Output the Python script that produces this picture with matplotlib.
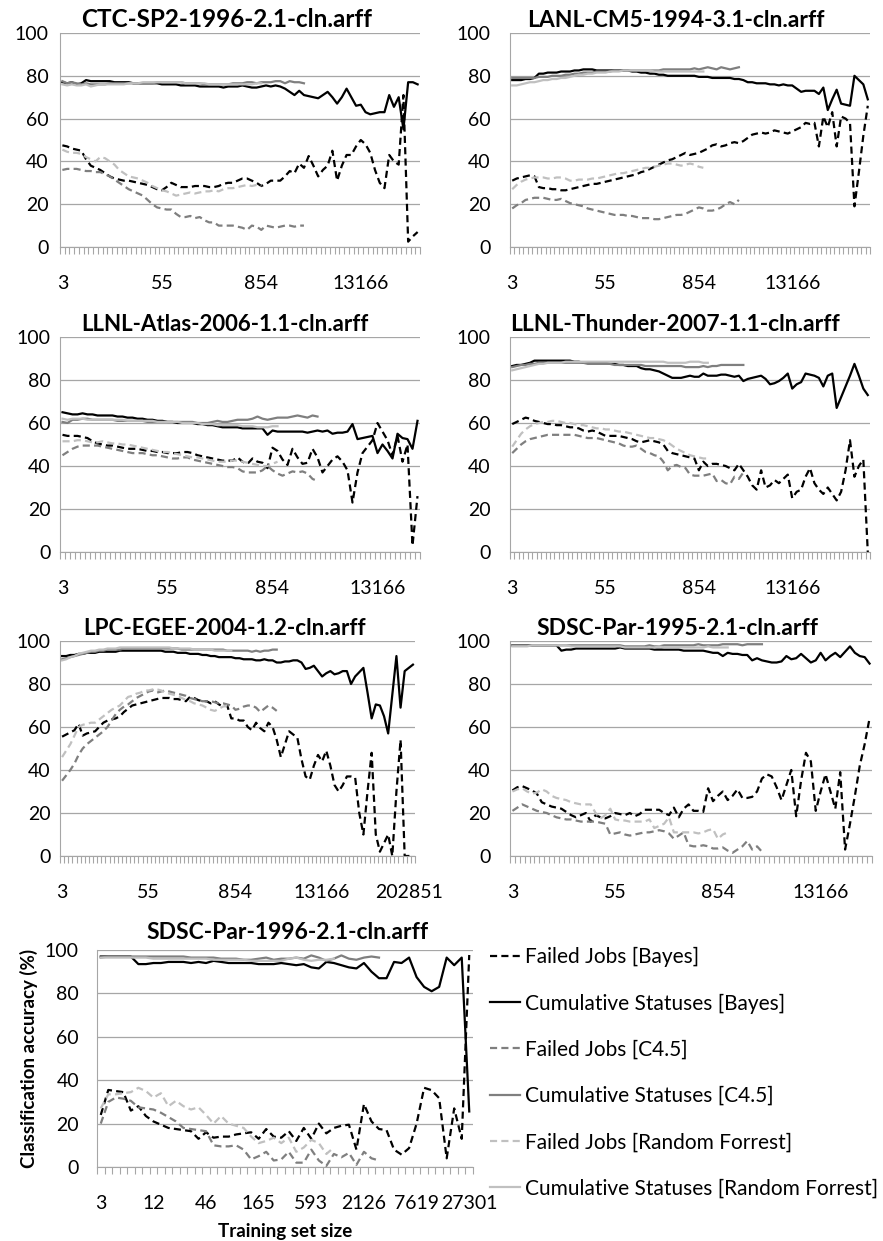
import numpy as np
import matplotlib.pyplot as plt
from matplotlib.lines import Line2D
from matplotlib.ticker import FixedLocator, NullFormatter

plt.rcParams['font.family'] = ['Lato', 'DejaVu Sans']

# ---------------- data ----------------
labels = ['Failed Jobs [Bayes]', 'Cumulative Statuses [Bayes]',
          'Failed Jobs [C4.5]', 'Cumulative Statuses [C4.5]',
          'Failed Jobs [Random Forrest]', 'Cumulative Statuses [Random Forrest]']

ticks_std = ['3', '55', '854', '13166']
ticks_lpc = ['3', '55', '854', '13166', '202851']
ticks_1996 = ['3', '12', '46', '165', '593', '2126', '7619', '27301']

# CTC-SP2-1996
ctc_bayes_failed = [47.5, 47, 46, 45.5, 45, 41, 38, 37, 36, 34.5, 33, 32, 31.5, 31, 31, 30.5, 30, 29.5, 29, 28, 27,
                    26.5, 28, 30, 29, 28, 28, 28, 28.5, 28.5, 28.5, 28, 28, 28.5, 29.5, 30, 30, 31, 32, 32, 31,
                    30, 28.5, 29.5, 31, 31, 31, 33, 35.5, 34.5, 39, 37, 42.5, 38, 33, 36, 38, 45, 31, 38, 43,
                    43, 47, 50, 48, 44, 36, 30, 27.5, 43, 40, 38.5, 71, 2.5, 5, 7]
ctc_bayes_cum = [77, 76.5, 77, 76, 76.5, 78, 77.5, 77.5, 77.5, 77.5, 77.5, 77, 77, 77, 77, 76.5, 76.5, 76.5, 76.5,
                 76.5, 76.5, 76, 76, 76, 76, 75.5, 75.5, 75.5, 75.5, 75, 75, 75, 75, 75, 74.5, 75, 75, 75, 75.5,
                 75, 74.5, 74.5, 75, 75.5, 75, 75.5, 75, 74, 72.5, 71, 73, 71, 70.5, 70, 69.5, 71, 72.5, 70, 67,
                 70, 74, 70, 66, 66.5, 63, 62, 62.5, 63, 63, 71, 65.5, 70, 55, 77, 77, 76]
ctc_c45_failed = [36, 36.5, 36.5, 36.5, 36, 35.5, 35.5, 35, 35, 34, 33, 31.5, 30, 28.5, 27, 26, 25, 24, 22, 20,
                  18.5, 18, 17.5, 17.5, 15.5, 14, 14, 14.5, 13.5, 14, 12.5, 11.5, 11.5, 10, 10, 10, 10, 9.5, 9,
                  8, 10, 9.5, 8, 10, 9.5, 9, 9.5, 10, 10, 9.5, 10, 10]
ctc_c45_cum = [77.5, 76.5, 77, 76.5, 76, 76.5, 76, 76, 76, 76, 76.5, 76.5, 76.5, 76.5, 76.5, 76.5, 76.5, 76.5,
               76.5, 76.5, 77, 77, 77, 77, 77, 77, 76.5, 76.5, 76.5, 76.5, 76, 76, 76, 76, 76, 76, 76.5, 76.5,
               76.5, 77, 77, 76.5, 77, 77, 77, 77.5, 77.5, 76.5, 77.5, 77, 77, 76.5]
ctc_rf_failed = [45.5, 44.5, 44, 44, 43.5, 42, 41, 40, 42, 41.5, 40, 38.5, 36, 34.5, 33, 32.5, 32, 31, 30, 28.5,
                 27.5, 26.5, 26, 25, 24, 24.5, 25, 25.5, 25, 25.5, 26, 26, 26.5, 26, 27, 27.5, 27.5, 28, 28.5,
                 29, 28.5, 29, 28.5]
ctc_rf_cum = [76, 75.5, 76, 75.5, 75.5, 76, 75, 75.5, 76, 76, 76, 76, 76, 76, 76.5, 76.5, 76.5, 77, 77, 77, 77,
              77, 77, 77, 77, 77, 76.5, 76.5, 76.5, 76.5, 76.5, 76, 76, 76, 76, 76, 76, 76, 76, 76, 76, 76.5, 76.5]

# LANL-CM5-1994
lanl_bayes_failed = [31, 32, 32.5, 33, 33.5, 33, 28, 27.5, 27.5, 27, 27, 26.5, 26.5, 27, 27.5, 28, 28.5, 29,
                     29.5, 29.5, 30, 30.5, 31, 31.5, 32, 32.5, 33, 33.5, 34, 35, 35.5, 36.5, 37.5, 38.5, 39.5,
                     40.5, 41, 42, 43, 44, 43, 43.5, 44, 45, 46, 47.5, 48, 47, 47.5, 48.5, 49, 48.5, 49.5, 51,
                     52.5, 53, 53.5, 53, 53.5, 54.5, 54, 53.5, 53, 54, 55, 56, 58, 57.5, 58, 47, 61, 56, 63, 47,
                     61, 60, 58, 19, 35, 52, 66]
lanl_bayes_cum = [78, 78, 78, 78.5, 78.5, 79, 81, 81, 81.5, 81.5, 81.5, 82, 82, 82, 82.5, 82.5, 83, 83, 83, 82.5,
                  82.5, 82.5, 82.5, 82.5, 82.5, 82.5, 82.5, 82, 82, 81.5, 81.5, 81, 81, 80.5, 80.5, 80, 80, 80,
                  80, 80, 80, 80, 79.5, 79.5, 79.5, 79, 79, 79, 79, 79, 78.5, 78.5, 78, 77, 77, 76.5, 76.5, 76.5,
                  76, 76, 75.5, 76, 75.5, 75.5, 74, 72.5, 73, 73, 73, 71.5, 74.5, 64, 69, 73.5, 67, 66.5, 66, 80,
                  78, 76, 69]
lanl_c45_failed = [18, 19.5, 20.5, 22, 22.5, 23, 23, 23, 22.5, 22, 22, 22.5, 21.5, 20.5, 20, 19.5, 19, 18, 17.5,
                   17, 16.5, 16, 15.5, 15, 15, 15, 14.5, 14.5, 14, 13.5, 13.5, 13.5, 13, 13, 13.5, 14, 14.5, 15,
                   15, 15.5, 16.5, 17.5, 18.5, 18, 17, 17, 17.5, 18.5, 20, 21, 20, 22]
lanl_c45_cum = [79, 79, 79, 79, 79, 79, 79.5, 79.5, 79.5, 80, 80, 80, 80.5, 80.5, 81, 81, 81.5, 81.5, 81.5, 82,
                82, 82, 82, 82.5, 82.5, 82.5, 82.5, 82.5, 82.5, 82.5, 82.5, 82.5, 82.5, 82.5, 83, 83, 83, 83,
                83, 83, 83, 83.5, 83, 83.5, 84, 83.5, 83, 84, 83.5, 83, 83.5, 84]
lanl_rf_failed = [27, 29, 30.5, 31.5, 32, 32.5, 32.5, 32.5, 32, 32, 32.5, 32.5, 32, 31, 31, 31.5, 31.5, 31.5, 32,
                  32, 32.5, 33, 33.5, 34, 34.5, 34.5, 35, 35.5, 36, 36.5, 37, 37, 37.5, 38, 38.5, 39, 39, 38.5,
                  38, 38.5, 39, 38.5, 37.5, 37]
lanl_rf_cum = [75.5, 75.5, 76, 76.5, 77, 77, 77.5, 78, 78, 78.5, 78.5, 79, 79, 79.5, 80, 80.5, 80.5, 81, 81, 81.5,
               81.5, 81.5, 82, 82, 82, 82.5, 82.5, 82.5, 82.5, 82.5, 82.5, 82.5, 82, 82, 82, 82, 82, 82, 82, 82,
               82, 82, 82, 82]

# LLNL-Atlas-2006
atlas_bayes_failed = [54.5, 54, 54, 54, 53.5, 53, 51.5, 50.5, 50, 49.5, 49.5, 49, 48.5, 48, 48, 48, 47.5, 47, 47,
                      46.5, 46.5, 46, 46, 46, 46.5, 46.5, 46, 45, 44.5, 44, 43.5, 43, 42.5, 42.5, 42.5, 44, 42,
                      41, 43.5, 42, 41.5, 39, 48.5, 47, 43, 40.5, 48, 44, 41, 41.5, 48, 44, 37, 40, 43, 44.5, 42,
                      38, 23, 37, 46, 49, 52, 60, 56, 52, 45, 54, 42, 50, 3, 26]
atlas_bayes_cum = [65, 64.5, 64, 64, 64.5, 64, 64, 63.5, 63.5, 63.5, 63.5, 63, 63, 62.5, 62.5, 62, 62, 61.5,
                   61.5, 61, 61, 60.5, 60.5, 60, 60, 60, 60, 59.5, 59.5, 59, 59, 58.5, 58, 58, 58, 58, 57.5,
                   57.5, 57.5, 57.5, 57.5, 54.5, 56.5, 56, 56, 56, 56, 56, 56, 55.5, 56, 56.5, 56, 56.5, 55,
                   55.5, 55.5, 56, 59.5, 52.5, 53, 53.5, 54, 46, 50, 47, 43.5, 55, 53, 52.5, 48, 61]
atlas_c45_failed = [45, 46.5, 48, 49, 49.5, 49.5, 49.5, 49.5, 49, 48.5, 48, 47.5, 47, 46.5, 46, 46, 46, 45.5,
                    45, 45, 44.5, 44, 43.5, 43.5, 44, 44, 43, 42.5, 42, 41.5, 41, 40.5, 40, 39.5, 39.5, 39, 37.5,
                    37, 37, 37, 38, 40, 38, 36.5, 35.5, 36.5, 37.5, 37, 37.5, 36.5, 34, 33]
atlas_c45_cum = [60.5, 60, 61.5, 61.5, 62, 62, 61.5, 61.5, 61.5, 61.5, 61.5, 61, 61, 61, 61, 61, 61, 60.5, 60.5,
                 60.5, 60.5, 60.5, 60.5, 60.5, 60.5, 60.5, 60.5, 60, 60, 60, 60.5, 61, 60.5, 60.5, 61, 61.5,
                 61.5, 61.5, 62, 63, 62, 61.5, 62, 62.5, 62.5, 62.5, 63, 63.5, 63, 62.5, 63.5, 63]
atlas_rf_failed = [51.5, 51.5, 51.5, 52, 52, 51.5, 51, 51, 51.5, 51, 50.5, 50.5, 50, 50, 49.5, 49, 48.5, 48, 47.5,
                   47, 46.5, 46.5, 46, 45.5, 45, 44.5, 44, 44, 43.5, 43, 42.5, 42, 42, 42, 42.5, 42.5, 42, 41.5,
                   41, 40.5, 40, 40, 41, 42]
atlas_rf_cum = [62, 61.5, 62, 62, 62, 61.5, 61.5, 61.5, 61.5, 61.5, 61.5, 61.5, 61.5, 61, 61, 61, 61, 61, 61,
                60.5, 60.5, 60.5, 60.5, 60.5, 60, 60, 60, 60, 59.5, 59.5, 59.5, 59, 59, 59, 59, 59, 58.5, 58.5,
                58.5, 58, 58, 58, 58.5, 58.5]

# LLNL-Thunder-2007
thunder_bayes_failed = [59.5, 60.5, 61.5, 62.5, 62, 61, 60.5, 60, 59.5, 59.5, 59, 59, 58.5, 58, 58, 57.5, 56.5,
                        56, 56.5, 56, 55, 54, 54, 54, 54, 53.5, 53, 52.5, 51.5, 51, 51.5, 52, 51.5, 51, 50, 47,
                        46, 45.5, 45, 44.5, 44, 43.5, 38, 42, 40, 41, 41, 40.5, 40, 39, 38, 41, 38, 35, 31, 29,
                        38, 30, 31, 33.5, 32, 34, 36, 25, 28, 29, 35, 39, 32, 29, 27, 30, 27, 24, 28, 38, 52, 35,
                        40, 43, 0]
thunder_bayes_cum = [86.5, 87, 87, 87.5, 88, 89, 89, 89, 89, 89, 89, 89, 89, 89, 88.5, 88.5, 88, 88, 88, 88, 88,
                     88, 87.5, 87.5, 87, 87, 86.5, 86.5, 86.5, 85.5, 85, 85, 84.5, 84, 83, 82, 81, 81, 81, 81.5,
                     82, 81.5, 81.5, 83, 82, 82, 82, 82.5, 82.5, 82, 81.5, 82, 79.5, 80.5, 81, 81.5, 82, 80.5, 78,
                     78.5, 79.5, 81, 83, 76, 78, 79, 83, 82.5, 82, 81, 77, 82, 83, 67, 72, 77, 82, 87.5, 82, 76, 73]
thunder_c45_failed = [46, 48, 50, 51.5, 52.5, 53, 53.5, 54, 54.5, 54.5, 54.5, 54.5, 54.5, 54.5, 54.5, 54, 53.5,
                      53, 53, 53, 52.5, 52, 51.5, 51, 50.5, 49.5, 49, 49, 49.5, 48, 46.5, 46, 45, 44.5, 42, 38,
                      40, 40.5, 39.5, 39, 36, 35.5, 35.5, 35.5, 36, 36.5, 33, 33.5, 32, 31.5, 35, 34, 37]
thunder_c45_cum = [86, 86.5, 87, 87, 87.5, 87.5, 88, 88, 88, 88, 88, 88, 88, 88, 88, 88, 88, 87.5, 87.5, 87.5,
                   87.5, 87.5, 87.5, 87, 87, 87, 87, 87, 87, 87, 86.5, 86.5, 86.5, 86.5, 86.5, 86.5, 86.5, 86.5,
                   86.5, 86, 86, 86, 86, 86.5, 86, 86.5, 86.5, 87, 87, 87, 87, 87, 87]
thunder_rf_failed = [49, 52, 55, 57, 58.5, 59.5, 60, 60.5, 60.5, 61, 61, 60.5, 60, 60, 59.5, 59, 59, 58.5, 58,
                     57.5, 57.5, 57, 57, 56.5, 56, 56, 55.5, 55, 54.5, 54, 53.5, 53, 53, 52.5, 52, 51, 49.5, 48,
                     47, 46, 45, 44.5, 44, 43.5, 43.5]
thunder_rf_cum = [84.5, 85, 85.5, 86, 86.5, 87, 87.5, 87.5, 88, 88, 88, 88, 88.5, 88.5, 88.5, 88.5, 88.5, 88.5,
                  88.5, 88.5, 88.5, 88.5, 88.5, 88.5, 88.5, 88.5, 88.5, 88.5, 88.5, 88.5, 88.5, 88.5, 88.5, 88.5,
                  88.5, 88, 88, 88, 88, 88, 88.5, 88.5, 88.5, 88, 88]

# LPC-EGEE-2004
lpc_bayes_failed = [55.5, 56.5, 57.5, 58.5, 61.5, 56, 57, 57.5, 58, 60, 62, 63, 63.5, 64, 65, 67, 68.5, 70, 70.5,
                    71, 71.5, 72, 72.5, 73, 73.5, 73.5, 73.5, 73, 73, 72.5, 72, 74, 73.5, 72.5, 72, 72, 71, 72,
                    70.5, 69.5, 70, 64, 64, 63, 63, 60, 58.5, 62, 59.5, 58, 62, 60, 54, 46, 52, 58, 56.5, 55, 45,
                    37, 35.5, 42, 47, 44, 49, 42, 33, 30, 33, 37, 37, 36.5, 20, 10, 30, 48, 10, 2, 6, 10, 0, 30,
                    54, 0, 0, 0]
lpc_bayes_cum = [93, 93, 93.5, 93.5, 94, 94, 94.5, 94.5, 94.5, 95, 95, 95, 95, 95, 95.5, 95.5, 95.5, 95.5, 95.5,
                 95.5, 95.5, 95.5, 95.5, 95.5, 95.5, 95, 95, 95, 94.5, 94.5, 94.5, 94, 94, 94, 93.5, 93.5, 93, 93,
                 92.5, 92.5, 92.5, 92.5, 92, 92, 91.5, 91.5, 91.5, 91, 91, 91.5, 91, 91, 90, 90, 90.5, 90.5, 91,
                 91, 90, 87, 87.5, 88.5, 86, 83.5, 85, 86, 84.5, 85, 86, 86, 80, 83.5, 85.5, 87.5, 76, 64, 70.5,
                 70, 65, 57, 75, 93, 69, 86, 87.5, 89]
lpc_c45_failed = [35, 37.5, 40, 43, 47, 50, 52, 53.5, 55, 56.5, 58, 60, 63, 66, 68, 69.5, 70.5, 72, 73.5, 74.5,
                  75.5, 76.5, 77, 76, 76.5, 77, 76.5, 76, 75.5, 75, 74.5, 73.5, 73, 72.5, 72, 72, 72, 71.5, 71,
                  71, 70.5, 70, 68, 68.5, 69.5, 70, 70, 69, 67, 68.5, 70, 69, 67.5]
lpc_c45_cum = [91.5, 92, 92.5, 93, 93.5, 94, 94.5, 95, 95, 95.5, 95.5, 96, 96, 96, 96, 96.5, 96.5, 96.5, 96.5,
               96.5, 96.5, 96.5, 96.5, 96.5, 96.5, 96.5, 96.5, 96.5, 96.5, 96, 96, 96, 96, 96, 96, 96, 96, 96,
               96, 96, 95.5, 95.5, 95.5, 95.5, 95.5, 95.5, 95, 95.5, 95, 95.5, 95.5, 96, 96]
lpc_rf_failed = [46, 49, 52, 56, 60, 61, 61.5, 62, 62, 63.5, 65, 66.5, 68, 69, 70, 72, 74, 74.5, 75.5, 76, 77, 77,
                 77.5, 77.5, 77, 76, 75.5, 75, 74.5, 73.5, 72.5, 72, 71, 70.5, 70, 69, 68, 67.5, 68.5, 69.5, 70,
                 70]
lpc_rf_cum = [91, 91.5, 92.5, 93, 94, 94.5, 95, 95.5, 95.5, 96, 96, 96.5, 96.5, 96.5, 97, 97, 97, 97, 97, 97, 97,
              97, 97, 97, 97, 97, 97, 96.5, 96.5, 96.5, 96.5, 96.5, 96, 96, 96, 96, 96, 95.5, 95.5, 95.5, 95.5,
              95.5]

# SDSC-Par-1995
par95_bayes_failed = [30.5, 32, 32.5, 31.5, 30.5, 29, 25, 24, 23, 22.5, 22, 20.5, 19, 18, 19, 20, 16, 19, 18,
                      17.5, 18.5, 20, 19.5, 19, 20, 18.5, 19.5, 21.5, 21.5, 21.5, 21.5, 20, 19, 22.5, 18, 22, 24,
                      21, 21, 20.5, 31.5, 25.5, 28, 30, 26, 28, 31, 27, 27, 27.5, 30, 36, 38, 37, 32, 26, 33, 40,
                      18.5, 35, 48, 44, 21, 30, 38, 30, 22, 39, 3, 15, 28, 42, 52, 64]
par95_bayes_cum = [98, 98, 98, 98, 98, 98, 98, 98, 98, 98, 95.5, 96, 96, 96.5, 96.5, 96.5, 96.5, 96.5, 96.5, 96.5,
                   96.5, 96.5, 97, 96.5, 96.5, 96.5, 96.5, 96.5, 96.5, 96, 96, 96, 96, 96, 96, 95.5, 95.5, 95.5,
                   95.5, 95.5, 95, 94.5, 94.5, 93, 94.5, 94, 94, 93.5, 93.5, 91, 92, 91, 90.5, 90, 90, 90.5, 93,
                   91.5, 92, 94, 92, 90, 91, 94.5, 91, 93, 94.5, 92.5, 95, 97.5, 94.5, 93, 92.5, 89.5]
par95_c45_failed = [21, 22.5, 24, 23, 22, 21, 20.5, 20, 19, 18, 17.5, 17, 17, 16.5, 16, 16, 16, 16, 15.5, 15, 10,
                    10.5, 11, 10, 9.5, 10, 10.5, 11, 11, 11.5, 12, 11.5, 10.5, 8, 9.5, 11, 5, 4.5, 4.5, 5, 4.5,
                    3.5, 3.5, 4, 2.5, 1.5, 3, 4.5, 7, 3, 4.5, 2]
par95_c45_cum = [98, 98, 98, 98, 98, 98, 98, 98, 98, 98, 98, 98, 98, 98, 98, 98, 98, 98, 98, 98, 98, 98, 98, 97.5,
                 97.5, 97.5, 97.5, 97.5, 98, 97.5, 97.5, 98, 98, 98, 98, 98, 98, 98, 98.5, 98, 98, 98, 98, 98.5,
                 98.5, 98.5, 98.5, 98, 98.5, 98.5, 98.5, 98.5]
par95_rf_failed = [30, 31, 31.5, 30, 29, 29.5, 31, 30, 28, 27, 26.5, 26, 25, 24.5, 24, 24, 24, 20, 17.5, 19, 22,
                   17, 16.5, 16.5, 16, 16, 16, 16, 17, 13, 14, 15, 18, 11, 11, 11, 11, 11, 10.5, 11, 12, 12.5, 8,
                   10, 11]
par95_rf_cum = [97.5, 97.5, 97.5, 97.5, 98, 98, 98, 98, 98, 98, 98, 98, 97.5, 97.5, 97.5, 97.5, 97.5, 97.5, 97.5,
                97.5, 97.5, 97.5, 97.5, 97, 97, 97, 97, 97, 97, 97, 97.5, 97, 97, 97, 97, 97, 97, 97, 97, 97,
                97.5, 97, 97, 97, 97]

# SDSC-Par-1996
par96_bayes_failed = [24, 35.5, 35, 34.5, 26, 28, 23.5, 21, 19.5, 18, 17.5, 17, 16.5, 13, 16, 13.5, 14, 14, 15,
                      15.5, 16, 13, 17.5, 14, 13.5, 16.5, 12, 18, 13, 20, 15.5, 18, 19, 19.5, 8, 29, 21, 17.5, 17,
                      8, 5.7, 8.7, 20, 36.5, 35.4, 31.7, 4, 27, 13, 97.7]
par96_bayes_cum = [97, 97, 97, 97, 97, 93.5, 93.5, 94, 94, 94.5, 94.5, 94.5, 94, 94.5, 94, 95, 94.5, 94, 94, 94,
                   94, 93.5, 93.5, 93.5, 94, 93.5, 93, 93.5, 92, 91.5, 94.5, 94, 93, 92, 91.5, 94, 90, 87, 87,
                   94.5, 94, 96.5, 87.5, 83, 81, 83, 96.5, 93, 96.5, 25.6]
par96_c45_failed = [20, 30, 32, 31.5, 30.5, 27.5, 27, 26.5, 25, 23, 21, 18, 17.5, 17, 16.5, 10, 9.5, 9.5, 10, 8,
                    3.5, 5, 7, 3, 3.5, 7, 2, 2, 8, 3, 0.5, 6, 4.5, 6.5, 1, 7, 4, 3]
par96_c45_cum = [96.5, 97, 97, 97, 97, 97, 97, 97, 97, 97, 97, 97, 96.5, 96.5, 96.5, 96.5, 96, 96, 96, 95.5,
                 95.5, 96, 96.5, 95.5, 96, 96, 96.5, 96, 97.5, 96.5, 95, 96, 97.5, 96, 95.5, 96.5, 97, 96.5]
par96_rf_failed = [27, 33.5, 33.5, 34, 34.5, 36.5, 35, 32, 34, 28, 30.5, 28, 26.5, 27.5, 24, 20, 23.5, 20, 19, 18,
                   14, 11, 12, 13.5, 11, 13.5, 7, 9, 12.5, 11, 6, 9]
par96_rf_cum = [96.5, 96.5, 96.5, 96.5, 96.5, 96.5, 96.5, 96, 96, 96, 96, 96, 96, 96, 96, 95.5, 95.5, 95.5, 95.5,
                95.5, 95, 95, 95, 95, 95, 96, 96.5, 95.5, 95, 95.5, 95.5, 96]

# ---------------- layout ----------------
W, H = 883, 1241

# title, tick labels, label step, (left, right, top, bottom) px, title centre px, title size, title pad,
# y tick pad, series
charts = [
    ('CTC-SP2-1996-2.1-cln.arff', ticks_std, 21, (60, 420, 33, 247), 227, 17.5, 4, 8,
     [ctc_bayes_failed, ctc_bayes_cum, ctc_c45_failed, ctc_c45_cum, ctc_rf_failed, ctc_rf_cum]),
    ('LANL-CM5-1994-3.1-cln.arff', ticks_std, 21, (510, 870, 33, 247), 676, 16.5, 4, 14,
     [lanl_bayes_failed, lanl_bayes_cum, lanl_c45_failed, lanl_c45_cum, lanl_rf_failed, lanl_rf_cum]),
    ('LLNL-Atlas-2006-1.1-cln.arff', ticks_std, 21, (60, 420, 337, 552), 225, 16, 4, 7,
     [atlas_bayes_failed, atlas_bayes_cum, atlas_c45_failed, atlas_c45_cum, atlas_rf_failed, atlas_rf_cum]),
    ('LLNL-Thunder-2007-1.1-cln.arff', ticks_std, 21, (510, 870, 337, 552), 675, 16.5, 4, 14,
     [thunder_bayes_failed, thunder_bayes_cum, thunder_c45_failed, thunder_c45_cum, thunder_rf_failed,
      thunder_rf_cum]),
    ('LPC-EGEE-2004-1.2-cln.arff', ticks_lpc, 21, (60, 415, 641, 856), 225, 16.2, 4, 7,
     [lpc_bayes_failed, lpc_bayes_cum, lpc_c45_failed, lpc_c45_cum, lpc_rf_failed, lpc_rf_cum]),
    ('SDSC-Par-1995-2.1-cln.arff', ticks_std, 21, (510, 872, 641, 856), 677, 16.5, 4, 14,
     [par95_bayes_failed, par95_bayes_cum, par95_c45_failed, par95_c45_cum, par95_rf_failed, par95_rf_cum]),
    ('SDSC-Par-1996-2.1-cln.arff', ticks_1996, 7, (97, 473, 950, 1167), 287, 16.5, 8, 13,
     [par96_bayes_failed, par96_bayes_cum, par96_c45_failed, par96_c45_cum, par96_rf_failed, par96_rf_cum]),
]

colors = ['black', 'black', '#7f7f7f', '#7f7f7f', '#c0c0c0', '#c0c0c0']
dash = (0, (3.2, 1.9))
styles = [dash, '-', dash, '-', dash, '-']
grid_c = '#a6a6a6'

fig = plt.figure(figsize=(W / 100, H / 100), dpi=100)

for title, ticklabels, step, (l, r, t, b), tc, tsize, tpad, ypad, series in charts:
    ax = fig.add_axes([l / W, 1 - b / H, (r - l) / W, (b - t) / H])
    n = len(series[1])
    for y, c, ls in zip(series, colors, styles):
        ax.plot(np.arange(len(y)), y, color=c, linestyle=ls, lw=1.6)
    ax.set_xlim(-0.5, n - 0.5)
    ax.set_ylim(0, 100)
    ax.set_yticks(range(0, 101, 20))
    ax.yaxis.grid(True, color=grid_c, lw=0.9)
    ax.set_axisbelow(True)
    ax.set_xticks(np.arange(len(ticklabels)) * step)
    ax.set_xticklabels(ticklabels)
    ax.xaxis.set_minor_locator(FixedLocator(np.arange(n + 1) - 0.5))
    ax.xaxis.set_minor_formatter(NullFormatter())
    ax.tick_params(axis='x', which='major', length=0, pad=20, labelsize=14)
    ax.tick_params(axis='x', which='minor', length=5, width=0.8, color=grid_c, direction='out')
    ax.tick_params(axis='y', length=0, pad=ypad, labelsize=14)
    for s in ['top', 'right']:
        ax.spines[s].set_visible(False)
    ax.spines['left'].set_color(grid_c)
    ax.spines['bottom'].set_color(grid_c)
    ax.set_title(title, fontsize=tsize, fontweight='bold', pad=tpad, x=(tc - l) / (r - l))
    last = ax

last.set_xlabel('Training set size', fontsize=13.5, fontweight='bold', labelpad=8)
last.set_ylabel('Classification accuracy (%)', fontsize=13.5, fontweight='bold', labelpad=5)

handles = [Line2D([], [], color=c, linestyle=ls, lw=1.6) for c, ls in zip(colors, styles)]
fig.legend(handles, labels, loc='upper left', bbox_to_anchor=(490 / W, 1 - 947 / H), frameon=False,
           fontsize=15, labelspacing=1.26, handlelength=1.45, handletextpad=0.25,
           borderpad=0, borderaxespad=0)

fig.savefig('out.png', dpi=100)
